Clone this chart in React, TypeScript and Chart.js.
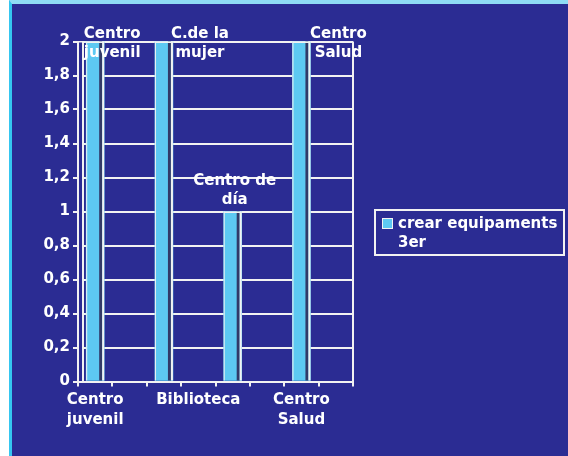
import React, { useEffect, useRef } from "react";
import { Chart, registerables } from "chart.js";

Chart.register(...registerables);

// ---- data ----
const CATEGORIES = [
  "Centro juvenil",
  "",
  "C.de la mujer",
  "Biblioteca",
  "Centro de día",
  "",
  "Centro Salud",
  "",
];
const VALUES: (number | null)[] = [2, null, 2, null, 1, null, 2, null];
const SERIES_NAME = "crear equipaments 3er";
const Y_MIN = 0;
const Y_MAX = 2;
const Y_STEP = 0.2;
const AXIS_LABEL_STEP = 3;

// ---- style ----
const FONT_FAMILY = "'DejaVu Sans', Verdana, sans-serif";
const FONT_SIZE = 15;
const BG = "#2B2C93";
const BAR = "#5DC9F2";
const WHITE = "#F2F2F2";
const BAR_SHADOW = "#323A68";
const WRAP_WIDTH = 90;
const DATA_LABEL_SHIFT = [17, 0, 36, 0, 2, 0, 37, 0];

const W = 556;
const H = 452;

let measureCtx: CanvasRenderingContext2D | null = null;
function wrap(text: string): string[] {
  if (!measureCtx) measureCtx = document.createElement("canvas").getContext("2d");
  const ctx = measureCtx!;
  ctx.font = `bold ${FONT_SIZE}px ${FONT_FAMILY}`;
  const words = text.split(" ");
  const lines: string[] = [];
  let cur = "";
  for (const w of words) {
    const t = cur ? cur + " " + w : w;
    if (cur && ctx.measureText(t).width > WRAP_WIDTH) {
      lines.push(cur);
      cur = w;
    } else cur = t;
  }
  if (cur) lines.push(cur);
  return lines;
}

const framePlugin = {
  id: "frame",
  beforeDatasetsDraw(chart: any) {
    const { ctx, chartArea } = chart;
    ctx.save();
    // cover gridlines inside the wall depth
    ctx.fillStyle = BG;
    ctx.fillRect(chartArea.left + 1, chartArea.top + 1, 5, chartArea.bottom - chartArea.top - 2);
    ctx.strokeStyle = WHITE;
    ctx.lineWidth = 2;
    ctx.beginPath();
    ctx.moveTo(chartArea.right, chartArea.top);
    ctx.lineTo(chartArea.right, chartArea.bottom);
    ctx.moveTo(chartArea.left + 5, chartArea.top);
    ctx.lineTo(chartArea.left + 5, chartArea.bottom);
    ctx.stroke();
    ctx.restore();
  },
};

const barDecorPlugin = {
  id: "barDecor",
  afterDatasetsDraw(chart: any) {
    const { ctx } = chart;
    const meta = chart.getDatasetMeta(0);
    ctx.save();
    meta.data.forEach((el: any, i: number) => {
      if (VALUES[i] == null) return;
      const left = el.x - el.width / 2;
      const right = el.x + el.width / 2;
      const top = el.y;
      const bottom = el.base;
      ctx.fillStyle = BAR_SHADOW;
      ctx.fillRect(right - 5, top, 3, bottom - top);
      ctx.fillStyle = WHITE;
      ctx.fillRect(right - 2, top, 2, bottom - top);
      ctx.fillRect(left, top, 1, bottom - top);
      ctx.fillRect(left, top, right - left, 1.5);
    });
    // data labels
    ctx.fillStyle = "#FFFFFF";
    ctx.font = `bold ${FONT_SIZE}px ${FONT_FAMILY}`;
    ctx.textAlign = "center";
    ctx.textBaseline = "middle";
    const lineH = 19;
    meta.data.forEach((el: any, i: number) => {
      if (VALUES[i] == null) return;
      const lines = wrap(CATEGORIES[i]);
      const cx = el.x + DATA_LABEL_SHIFT[i];
      let first = el.y - 11 - (lines.length - 1) * lineH;
      if (first < 30) first = 30;
      lines.forEach((ln, k) => ctx.fillText(ln, cx, first + k * lineH));
    });
    ctx.restore();
  },
};

const legendPlugin = {
  id: "boxLegend",
  afterDraw(chart: any) {
    const { ctx, chartArea } = chart;
    const bx = chartArea.right + 22;
    const by = 206;
    const bw = 189;
    const bh = 45;
    ctx.save();
    ctx.strokeStyle = WHITE;
    ctx.lineWidth = 2;
    ctx.strokeRect(bx, by, bw, bh);
    ctx.fillStyle = BAR;
    ctx.fillRect(bx + 7, by + 8, 11, 11);
    ctx.lineWidth = 1;
    ctx.strokeRect(bx + 7.5, by + 8.5, 10, 10);
    ctx.fillStyle = "#FFFFFF";
    ctx.font = `bold ${FONT_SIZE}px ${FONT_FAMILY}`;
    ctx.textAlign = "left";
    ctx.textBaseline = "middle";
    const words = SERIES_NAME.split(" ");
    const line1 = words.slice(0, 2).join(" ");
    const line2 = words.slice(2).join(" ");
    ctx.fillText(line1, bx + 23, by + 14);
    ctx.fillText(line2, bx + 23, by + 33);
    ctx.restore();
  },
};

export default function App() {
  const ref = useRef<HTMLCanvasElement>(null);
  useEffect(() => {
    if (!ref.current) return;
    const chart = new Chart(ref.current, {
      type: "bar",
      data: {
        labels: CATEGORIES,
        datasets: [
          {
            label: SERIES_NAME,
            data: VALUES as any,
            backgroundColor: BAR,
            borderWidth: 0,
            barThickness: 18,
          },
        ],
      },
      options: {
        responsive: false,
        animation: false,
        devicePixelRatio: 1,
        layout: { padding: { top: 37.5, right: 215, left: 0, bottom: 0 } },
        plugins: { legend: { display: false }, tooltip: { enabled: false } },
        scales: {
          x: {
            type: "category",
            offset: true,
            afterFit: (s: any) => {
              s.height = H - 377.5;
            },
            grid: {
              offset: true,
              drawOnChartArea: false,
              color: WHITE,
              lineWidth: 2,
              tickLength: 5,
            },
            border: { display: true, color: WHITE, width: 2 },
            ticks: {
              autoSkip: false,
              maxRotation: 0,
              minRotation: 0,
              padding: 4,
              color: "#FFFFFF",
              font: { family: FONT_FAMILY, size: FONT_SIZE, weight: "bold", lineHeight: 1.33 },
              callback: (_v: any, i: number) =>
                i % AXIS_LABEL_STEP === 0 && CATEGORIES[i] ? wrap(CATEGORIES[i]) : "",
            },
          },
          y: {
            min: Y_MIN,
            max: Y_MAX,
            afterFit: (s: any) => {
              s.width = 66;
            },
            grid: { color: WHITE, lineWidth: 2, tickLength: 5, drawTicks: true },
            border: { display: true, color: WHITE, width: 2 },
            ticks: {
              stepSize: Y_STEP,
              padding: 3,
              color: "#FFFFFF",
              font: { family: FONT_FAMILY, size: FONT_SIZE, weight: "bold" },
              callback: (v: any) => String(Number(Number(v).toFixed(1))).replace(".", ","),
            },
          },
        },
      },
      plugins: [framePlugin, barDecorPlugin, legendPlugin],
    });
    return () => chart.destroy();
  }, []);

  return (
    <div style={{ position: "fixed", left: 0, top: 0, width: 568, height: 456, background: "#FFFFFF" }}>
      <div
        style={{
          position: "absolute",
          left: 9,
          top: 0,
          width: 559,
          height: 456,
          background: BG,
          borderLeft: "3px solid #35C6F0",
          borderTop: "4px solid #8FDCF5",
          boxSizing: "border-box",
        }}
      />
      <canvas
        ref={ref}
        width={W}
        height={H}
        style={{ position: "absolute", left: 12, top: 4, width: W, height: H }}
      />
    </div>
  );
}
